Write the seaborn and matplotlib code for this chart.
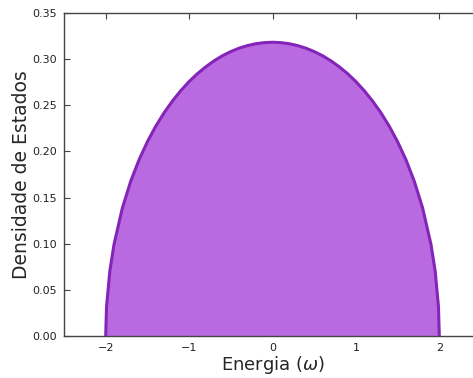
import matplotlib
matplotlib.use("Agg")
import matplotlib.pyplot as plt
import seaborn as sns
import pandas as pd

energy = [-2.0, -1.99, -1.95, -1.9, -1.8, -1.7, -1.6, -1.5, -1.4, -1.3, -1.2, -1.1, -1.0,
          -0.9, -0.8, -0.7, -0.6, -0.5, -0.4, -0.3, -0.2, -0.1, 0.0,
          0.1, 0.2, 0.3, 0.4, 0.5, 0.6, 0.7, 0.8, 0.9, 1.0,
          1.1, 1.2, 1.3, 1.4, 1.5, 1.6, 1.7, 1.8, 1.9, 1.95, 1.99, 2.0]
density = [0.0, 0.0318, 0.0707, 0.0994, 0.1387, 0.1677, 0.1910, 0.2105, 0.2273, 0.2419, 0.2546, 0.2658, 0.2757,
           0.2843, 0.2917, 0.2982, 0.3037, 0.3082, 0.3119, 0.3147, 0.3167, 0.3179, 0.3183,
           0.3179, 0.3167, 0.3147, 0.3119, 0.3082, 0.3037, 0.2982, 0.2917, 0.2843, 0.2757,
           0.2658, 0.2546, 0.2419, 0.2273, 0.2105, 0.1910, 0.1677, 0.1387, 0.0994, 0.0707, 0.0318, 0.0]

df = pd.DataFrame({"E": energy, "rho": density})

sns.set_style("white")
plt.rcParams["font.family"] = ["DejaVu Sans"]
plt.rcParams["xtick.direction"] = "in"
plt.rcParams["ytick.direction"] = "in"

fig = plt.figure(figsize=(4.73, 3.78), dpi=100)
ax = fig.add_axes([64/473, 1-336/378, (481-64)/473, (336-13)/378])

ax.fill_between(df["E"], df["rho"], color="#BA6AE0", linewidth=0)
sns.lineplot(data=df, x="E", y="rho", ax=ax, color="#8424B8", linewidth=2.2, sort=False)

ax.set_xlim(-2.5, 2.5)
ax.set_ylim(0, 0.35)
ax.set_xticks([-2, -1, 0, 1, 2])
ax.set_xticklabels(["\u22122", "\u22121", "0", "1", "2"])
ax.set_yticks([0, 0.05, 0.10, 0.15, 0.20, 0.25, 0.30, 0.35])
ax.set_yticklabels(["0.00", "0.05", "0.10", "0.15", "0.20", "0.25", "0.30", "0.35"])
ax.tick_params(axis="both", which="both", direction="in", top=True, right=True,
               bottom=True, left=True, length=4, width=0.8, color="#444444",
               labelsize=8, pad=5, labelcolor="#222222")
for s in ax.spines.values():
    s.set_color("#444444")
    s.set_linewidth(1.0)
ax.set_xlabel(r"Energia ($\omega$)", fontsize=13, labelpad=1)
ax.set_ylabel("Densidade de Estados", fontsize=13.5, labelpad=1)

fig.savefig("out.png", dpi=100, facecolor="white")
